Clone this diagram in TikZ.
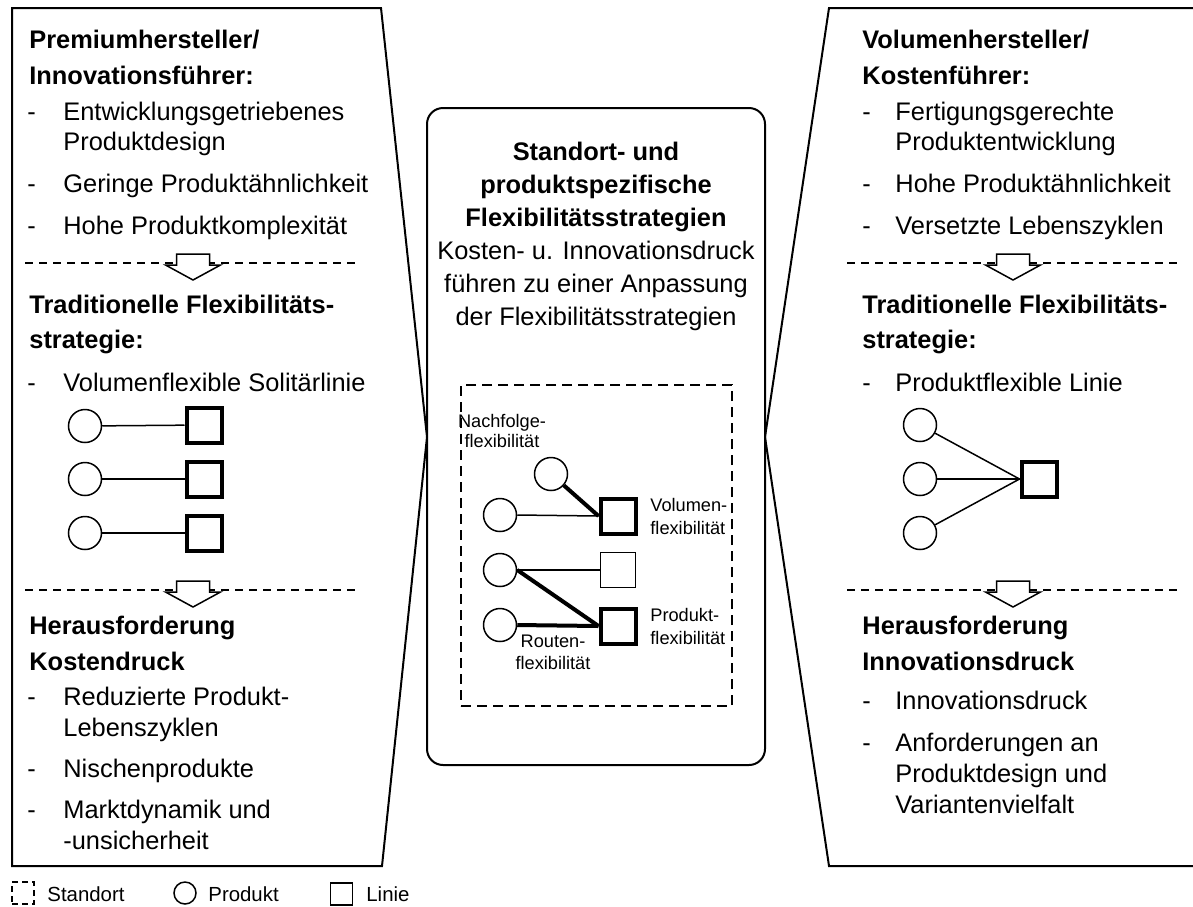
\documentclass[tikz,border=0pt]{standalone}
\usepackage{fontspec}
\setmainfont{Liberation Sans}
\begin{document}
\begin{tikzpicture}[x=0.5pt,y=-0.5pt,
  txt/.style={anchor=base west, inner sep=0pt, font=\fontsize{12.7}{15}\selectfont},
  head/.style={txt, font=\fontsize{12.7}{15}\selectfont\bfseries},
  ctxt/.style={txt, anchor=base},
  chead/.style={head, anchor=base},
  small/.style={inner sep=0pt, anchor=base, font=\fontsize{9.1}{11}\selectfont},
  smallw/.style={small, anchor=base west},
  legtxt/.style={txt, font=\fontsize{10.2}{12}\selectfont},
  panel/.style={line width=1pt, line join=miter},
  sep/.style={line width=0.75pt, dash pattern=on 4pt off 3pt},
  prod/.style={circle, draw, line width=0.75pt, minimum size=16.5pt, inner sep=0pt},
  linie/.style={rectangle, draw, line width=2pt, minimum size=17.5pt, inner sep=0pt},
  linieduenn/.style={rectangle, draw, line width=0.75pt, minimum size=17.5pt, inner sep=0pt},
  conn/.style={line width=0.75pt},
  fatconn/.style={line width=2pt},
  flow/.pic={\draw[line width=0.75pt, fill=white, line join=miter]
    (-16.5,-9) -- (16.5,-9) -- (16.5,2) -- (27.5,2) -- (0,17) -- (-27.5,2) -- (-16.5,2) -- cycle;}
]
\useasboundingbox (0,0) rectangle (1193,906);

% ---------- outer panels ----------
\draw[panel] (12,8) -- (381,8) -- (427,437) -- (382,866) -- (12,866) -- cycle;
\draw[panel] (1210,8) -- (829,8) -- (765,437) -- (829,866) -- (1210,866);
\node[draw, rounded corners=8pt, line width=1pt, minimum width=169pt, minimum height=328.5pt, inner sep=0pt] (mitte) at (596,436.5) {};

% ---------- left panel ----------
\node[head] (lh1) at (29,48) {Premiumhersteller/};
\node[head] (lh2) at (29,84) {Innovationsführer:};
\node[txt] (ld1) at (27,120) {-};
\node[txt] (la1) at (63,120) {Entwicklungsgetriebenes};
\node[txt] (la2) at (63,150) {Produktdesign};
\node[txt] (ld2) at (27,192) {-};
\node[txt] (la3) at (63,192) {Geringe Produktähnlichkeit};
\node[txt] (ld3) at (27,234) {-};
\node[txt] (la4) at (63,234) {Hohe Produktkomplexität};

\draw[sep] (25,263) -- (355,263);
\pic at (193,263) {flow};

\node[head] (lh3) at (29,313) {Traditionelle Flexibilitäts-};
\node[head] (lh4) at (29,348) {strategie:};
\node[txt] (ld4) at (27,391) {-};
\node[txt] (lb1) at (63,391) {Volumenflexible Solitärlinie};

\node[prod] (lp1) at (85,426) {};
\node[prod] (lp2) at (85,479) {};
\node[prod] (lp3) at (85,533) {};
\node[linie] (ll1) at (204,425) {};
\node[linie] (ll2) at (204,479) {};
\node[linie] (ll3) at (204,533) {};
\draw[conn] (lp1) -- (ll1);
\draw[conn] (lp2) -- (ll2);
\draw[conn] (lp3) -- (ll3);

\draw[sep] (25,590) -- (355,590);
\pic at (193,590) {flow};

\node[head] (lh5) at (29,634) {Herausforderung};
\node[head] (lh6) at (29,670) {Kostendruck};
\node[txt] (ld5) at (27,705) {-};
\node[txt] (lc1) at (63,705) {Reduzierte Produkt-};
\node[txt] (lc2) at (63,736) {Lebenszyklen};
\node[txt] (ld6) at (27,777) {-};
\node[txt] (lc3) at (63,777) {Nischenprodukte};
\node[txt] (ld7) at (27,818) {-};
\node[txt] (lc4) at (63,818) {Marktdynamik und};
\node[txt] (lc5) at (63,849) {-unsicherheit};

% ---------- right panel ----------
\node[head] (rh1) at (862,48) {Volumenhersteller/};
\node[head] (rh2) at (862,84) {Kostenführer:};
\node[txt] (rd1) at (862,120) {-};
\node[txt] (ra1) at (895,120) {Fertigungsgerechte};
\node[txt] (ra2) at (895,150) {Produktentwicklung};
\node[txt] (rd2) at (862,192) {-};
\node[txt] (ra3) at (895,192) {Hohe Produktähnlichkeit};
\node[txt] (rd3) at (862,234) {-};
\node[txt] (ra4) at (895,234) {Versetzte Lebenszyklen};

\draw[sep] (847,263) -- (1177,263);
\pic at (1013,263) {flow};

\node[head] (rh3) at (862,313) {Traditionelle Flexibilitäts-};
\node[head] (rh4) at (862,348) {strategie:};
\node[txt] (rd4) at (862,391) {-};
\node[txt] (rb1) at (895,391) {Produktflexible Linie};

\node[prod] (rp1) at (920,425) {};
\node[prod] (rp2) at (920,479) {};
\node[prod] (rp3) at (920,533) {};
\node[linie] (rl1) at (1039,479) {};
\draw[conn] (rp1) -- (rl1.west);
\draw[conn] (rp2) -- (rl1.west);
\draw[conn] (rp3) -- (rl1.west);

\draw[sep] (847,590) -- (1177,590);
\pic at (1013,590) {flow};

\node[head] (rh5) at (862,634) {Herausforderung};
\node[head] (rh6) at (862,670) {Innovationsdruck};
\node[txt] (rd5) at (862,709) {-};
\node[txt] (rc1) at (895,709) {Innovationsdruck};
\node[txt] (rd6) at (862,751) {-};
\node[txt] (rc2) at (895,751) {Anforderungen an};
\node[txt] (rc3) at (895,782) {Produktdesign und};
\node[txt] (rc4) at (895,813) {Variantenvielfalt};

% ---------- centre ----------
\node[chead] (mh1) at (596,160) {Standort- und};
\node[chead] (mh2) at (596,193) {produktspezifische};
\node[chead] (mh3) at (596,226) {Flexibilitätsstrategien};
\node[ctxt] (mt1) at (596,259) {Kosten- u. Innovationsdruck};
\node[ctxt] (mt2) at (596,292) {führen zu einer Anpassung};
\node[ctxt] (mt3) at (596,325) {der Flexibilitätsstrategien};

\node[draw, line width=0.75pt, dash pattern=on 5pt off 3pt, minimum width=135.5pt, minimum height=160.5pt, inner sep=0pt] (standort) at (596.5,545.5) {};

\node[small] (nf1) at (502,427) {Nachfolge-};
\node[small] (nf2) at (502,447) {flexibilität};

\node[prod] (mp0) at (551,474) {};
\node[prod] (mp1) at (500,515) {};
\node[prod] (mp2) at (500,570) {};
\node[prod] (mp3) at (500,625) {};
\node[linie] (ml1) at (618,516) {};
\node[linieduenn] (ml2) at (618,570) {};
\node[linie] (ml3) at (618,626) {};

\draw[fatconn] (mp0) -- (ml1.west);
\draw[conn] (mp1.east) -- (ml1.west);
\draw[conn] (mp2.east) -- (ml2.west);
\draw[fatconn] (mp2.east) -- (ml3.west);
\draw[fatconn] (mp3.east) -- (ml3.west);

\node[smallw] (vf1) at (650,511) {Volumen-};
\node[smallw] (vf2) at (650,534) {flexibilität};
\node[smallw] (pf1) at (650,621) {Produkt-};
\node[smallw] (pf2) at (650,644) {flexibilität};
\node[small] (rf1) at (553,647) {Routen-};
\node[small] (rf2) at (553,669) {flexibilität};

% ---------- legend ----------
\node[draw, line width=0.75pt, dash pattern=on 3pt off 2pt, minimum size=11pt, inner sep=0pt] (legs) at (23,893) {};
\node[legtxt] (legst) at (47,901) {Standort};
\node[prod, minimum size=11pt] (legp) at (185,893) {};
\node[legtxt] (legpt) at (208,901) {Produkt};
\node[linieduenn, minimum size=11pt] (legl) at (341.5,894) {};
\node[legtxt] (leglt) at (366,901) {Linie};
\end{tikzpicture}
\end{document}
